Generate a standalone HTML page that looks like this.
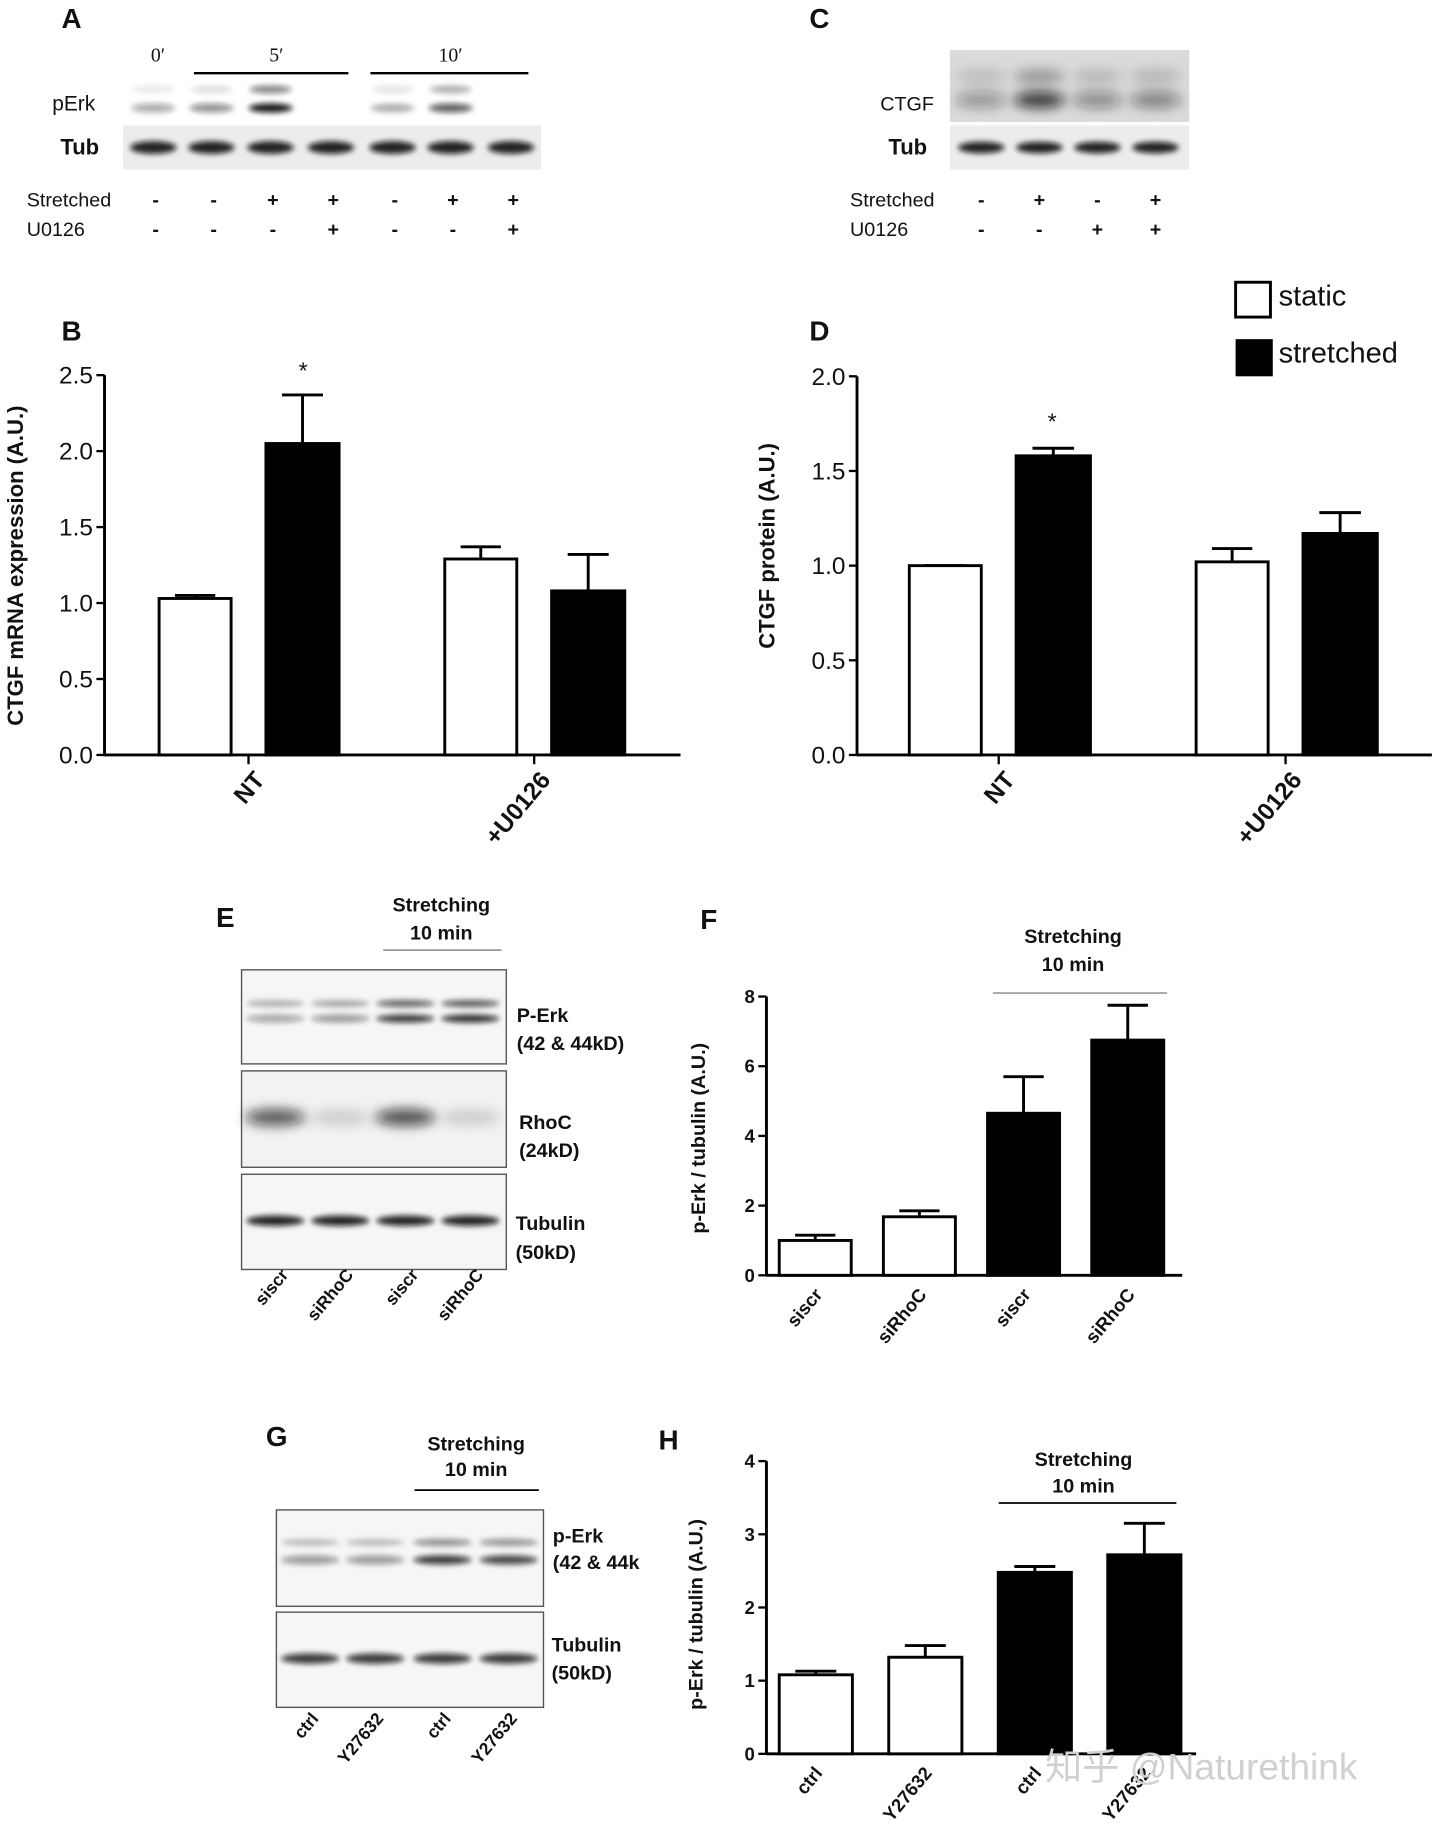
<!DOCTYPE html>
<html><head><meta charset="utf-8"><style>
html,body{margin:0;padding:0;background:#fff;width:1440px;height:1827px;overflow:hidden}
svg{display:block}
text{font-family:"Liberation Sans",Arial,sans-serif;fill:#111}
.serif{font-family:"Liberation Serif",serif}
</style></head><body>
<svg id="fig" width="1440" height="1827" viewBox="0 0 1240 1573" preserveAspectRatio="none" xmlns="http://www.w3.org/2000/svg">
<defs>
<filter id="bl" x="-30%" y="-100%" width="160%" height="300%"><feGaussianBlur stdDeviation="2.2"/></filter>
<filter id="bl2" x="-30%" y="-100%" width="160%" height="300%"><feGaussianBlur stdDeviation="5"/></filter>
</defs>
<g id="blots"></g>
<g id="charts"></g>
<text x="900" y="1532" font-size="32" style="fill:#d0d0d0" font-family="Liberation Sans, Noto Sans CJK SC, sans-serif">知乎 @Naturethink</text>
</svg>
<script>
const NS="http://www.w3.org/2000/svg";
function mk(p,tag,at,txt){const e=document.createElementNS(NS,tag);for(const k in at)e.setAttribute(k,at[k]);if(txt!==undefined)e.textContent=txt;p.appendChild(e);return e;}
const B=document.getElementById('blots'),C=document.getElementById('charts');

// ---- chart data ----
const catsB=["NT","+U0126"];
const staticB=[1.03,1.29], staticErrB=[1.05,1.37];
const stretchB=[2.05,1.08], stretchErrB=[2.37,1.32];
const ticksB=["0.0","0.5","1.0","1.5","2.0","2.5"];
const catsD=["NT","+U0126"];
const staticD=[1.0,1.02], staticErrD=[1.0,1.09];
const stretchD=[1.58,1.17], stretchErrD=[1.62,1.28];
const ticksD=["0.0","0.5","1.0","1.5","2.0"];
const catsF=["siscr","siRhoC","siscr","siRhoC"];
const valsF=[1.0,1.68,4.65,6.75], errF=[1.15,1.85,5.7,7.75], fillF=["w","w","k","k"];
const ticksF=["0","2","4","6","8"];
const catsH=["ctrl","Y27632","ctrl","Y27632"];
const valsH=[1.08,1.32,2.48,2.72], errH=[1.13,1.48,2.56,3.15], fillH=["w","w","k","k"];
const ticksH=["0","1","2","3","4"];

function axis(g,x0,x1,y0,yTop,max,ticks,fs,title,tx,ty,tfs,tb){
  const sy=v=>y0-(v/max)*(y0-yTop);
  let a=mk(g,'line',{x1:x0,y1:y0,x2:x1,y2:y0,stroke:'#000','stroke-width':2.5});
  
  a=mk(g,'line',{x1:x0,y1:y0+1,x2:x0,y2:yTop,stroke:'#000','stroke-width':2.5});
  
  ticks.forEach(t=>{const y=sy(parseFloat(t));
    mk(g,'line',{x1:x0-7,y1:y,x2:x0,y2:y,stroke:'#000','stroke-width':2});
    const l=mk(g,'text',{x:x0-10,y:y+fs*0.35,'font-size':fs,'text-anchor':'end','font-weight':tb?'bold':'normal'},t);
    });
  const tt=mk(g,'text',{x:tx,y:ty,'font-size':tfs,'text-anchor':'middle','font-weight':'bold',transform:`rotate(-90 ${tx} ${ty})`},title);
  
  return sy;
}
function bar(g,x,w,sy,v,e,black,y0,name){
  const top=sy(e);
  mk(g,'line',{x1:x+w/2,y1:sy(v),x2:x+w/2,y2:top,stroke:'#000','stroke-width':2.5});
  mk(g,'line',{x1:x+w/2-w*0.28,y1:top,x2:x+w/2+w*0.28,y2:top,stroke:'#000','stroke-width':2.5});
  const r=mk(g,'rect',{x:x,y:sy(v),width:w,height:y0-sy(v),fill:black?'#000':'#fff',stroke:'#000','stroke-width':2.5});
  
}
function label(g,x,y,t,fs,name,bold,anchor,cls){const e=mk(g,'text',{x:x,y:y,'font-size':fs,'font-weight':bold?'bold':'normal','text-anchor':anchor||'start'},t);if(cls)e.setAttribute('class',cls);return e;}
function rot(g,x,y,t,fs,name){const e=mk(g,'text',{x:x,y:y,'font-size':fs,'font-weight':'bold','text-anchor':'end',transform:`rotate(-50 ${x} ${y})`},t);}

// Chart B
{const g=mk(C,'g',{});
const sy=axis(g,90,586,650,323,2.5,ticksB,21,'CTGF mRNA expression (A.U.)',20,487,19);
catsB.forEach((c,i)=>{const cx=137+i*246;
 bar(g,cx,62,sy,staticB[i],staticErrB[i],false,650,'bar-static-'+c);
 bar(g,cx+92,63,sy,stretchB[i],stretchErrB[i],true,650,'bar-stretched-'+c);
 mk(g,'line',{x1:cx+77,y1:650,x2:cx+77,y2:658,stroke:'#000','stroke-width':2});
 rot(g,cx+92,672,c,21,'x-tick-label');});
label(g,261,326,'*',20,'significance-star',false,'middle');
label(g,53,293,'B',24,'panel-label-b',true);}
// Chart D
{const g=mk(C,'g',{});
const sy=axis(g,738,1233,650,324,2.0,ticksD,21,'CTGF protein (A.U.)',667,470,19);
catsD.forEach((c,i)=>{const cx=783+i*247;
 bar(g,cx,62,sy,staticD[i],staticErrD[i],false,650,'bar-static-'+c);
 bar(g,cx+92,64,sy,stretchD[i],stretchErrD[i],true,650,'bar-stretched-'+c);
 mk(g,'line',{x1:cx+77,y1:650,x2:cx+77,y2:658,stroke:'#000','stroke-width':2});
 rot(g,cx+92,672,c,21,'x-tick-label');});
label(g,906,370,'*',20,'significance-star',false,'middle');
label(g,697,293,'D',24,'panel-label-d',true);
let r=mk(g,'rect',{x:1064,y:243,width:30,height:30,fill:'#fff',stroke:'#000','stroke-width':2.5});
label(g,1101,263,'static',25,'legend-entry-static');
r=mk(g,'rect',{x:1064,y:292,width:32,height:32,fill:'#000'});
label(g,1101,312,'stretched',25,'legend-entry-stretched');}
// Chart F
{const g=mk(C,'g',{});
const sy=axis(g,660,1018,1098,858,8,ticksF,16,'p-Erk / tubulin (A.U.)',607,980,17,true);
catsF.forEach((c,i)=>{const cx=671+i*89.7;
 bar(g,cx,62,sy,valsF[i],errF[i],fillF[i]=='k',1098,'bar-'+c+'-'+i);
 rot(g,cx+38,1115,c,16,'x-tick-label');});
label(g,603,800,'F',24,'panel-label-f',true);
label(g,924,812,'Stretching',17,'bracket-title',true,'middle');label(g,924,836,'10 min',17,'bracket-title',true,'middle');
mk(g,'line',{x1:855,y1:855,x2:1005,y2:855,stroke:'#999','stroke-width':1.5});}
// Chart H
{const g=mk(C,'g',{});
const sy=axis(g,660,1030,1510,1258,4,ticksH,16,'p-Erk / tubulin (A.U.)',605,1390,17,true);
catsH.forEach((c,i)=>{const cx=671+i*94.3;
 bar(g,cx,63,sy,valsH[i],errH[i],fillH[i]=='k',1510,'bar-'+c+'-'+i);
 rot(g,cx+38,1527,c,16,'x-tick-label');});
label(g,567,1248,'H',24,'panel-label-h',true);
label(g,933,1262,'Stretching',17,'bracket-title',true,'middle');label(g,933,1285,'10 min',17,'bracket-title',true,'middle');
mk(g,'line',{x1:860,y1:1294,x2:1013,y2:1294,stroke:'#000','stroke-width':1.5});}

// ---- blots ----
function band(p,cx,cy,w,h,op,blur){mk(p,'ellipse',{cx:cx,cy:cy,rx:w/2,ry:h/2,fill:'#111','fill-opacity':op,filter:blur?'url(#bl2)':'url(#bl)'});}
function box(p,x,y,w,h,fill,stroke,name){const r=mk(p,'rect',{x:x,y:y,width:w,height:h,fill:fill,stroke:stroke||'none','stroke-width':1.2});}
// A
{const g=mk(B,'g',{});
label(g,53,24,'A',24,'panel-label-a',true);
label(g,136,53,'0′',17,'time-label',false,'middle','serif');label(g,238,53,'5′',17,'time-label',false,'middle','serif');label(g,388,53,'10′',17,'time-label',false,'middle','serif');
mk(g,'line',{x1:167,y1:63,x2:300,y2:63,stroke:'#000','stroke-width':2});mk(g,'line',{x1:319,y1:63,x2:455,y2:63,stroke:'#000','stroke-width':2});
const lanes=[132,182,233,285,338,388,440];
const up=[0.08,0.12,0.5,0,0.1,0.3,0], lo=[0.35,0.45,0.95,0,0.3,0.65,0];
lanes.forEach((x,i)=>{if(up[i])band(g,x,77,36,7,up[i]);if(lo[i])band(g,x,93,38,8,lo[i]);});
box(g,106,108,360,38,'#ececec',null,'tub-blot-a');
lanes.forEach(x=>band(g,x,127,40,11,0.9));
label(g,45,95,'pErk',18,'row-label');label(g,52,133,'Tub',19,'row-label',true);
label(g,23,178,'Stretched',17,'row-label');label(g,23,203,'U0126',17,'row-label');
const s=['-','-','+','+','-','+','+'],u=['-','-','-','+','-','-','+'];
lanes.forEach((x,i)=>{label(g,x+2,178,s[i],17,'lane-sign',true,'middle');label(g,x+2,203,u[i],17,'lane-sign',true,'middle');});}
// C
{const g=mk(B,'g',{});
label(g,697,24,'C',24,'panel-label-c',true);
box(g,818,43,206,62,'#dadada',null,'ctgf-blot');
const lanes=[845,895,945,995],op=[0.35,0.8,0.4,0.45];
lanes.forEach((x,i)=>{band(g,x,86,44,14,op[i],true);band(g,x,66,44,12,op[i]*0.4,true);});
box(g,818,108,206,38,'#ececec',null,'tub-blot-c');
lanes.forEach(x=>band(g,x,127,40,10,0.9));
label(g,758,95,'CTGF',17,'row-label');label(g,765,133,'Tub',19,'row-label',true);
label(g,732,178,'Stretched',17,'row-label');label(g,732,203,'U0126',17,'row-label');
const s=['-','+','-','+'],u=['-','-','+','+'];
lanes.forEach((x,i)=>{label(g,x,178,s[i],17,'lane-sign',true,'middle');label(g,x,203,u[i],17,'lane-sign',true,'middle');});}
// E
{const g=mk(B,'g',{});
label(g,186,798,'E',24,'panel-label-e',true);
label(g,380,785,'Stretching',17,'bracket-title',true,'middle');label(g,380,809,'10 min',17,'bracket-title',true,'middle');
mk(g,'line',{x1:330,y1:818,x2:432,y2:818,stroke:'#999','stroke-width':1.5});
const lanes=[237,293,349,405];
box(g,208,835,228,81,'#f6f6f6','#555','perk-blot-e');
[0.35,0.4,0.8,0.85].forEach((o,i)=>{band(g,lanes[i],864,50,6,o*0.8);band(g,lanes[i],877,50,7,o);});
box(g,208,922,228,83,'#f2f2f2','#555','rhoc-blot');
[0.7,0.15,0.75,0.15].forEach((o,i)=>band(g,lanes[i],962,52,14,o,true));
box(g,208,1011,228,82,'#f6f6f6','#555','tubulin-blot-e');
lanes.forEach(x=>band(g,x,1051,50,9,0.9));
label(g,445,880,'P-Erk',17,'row-label',true);label(g,445,904,'(42 & 44kD)',17,'row-label',true);
label(g,447,972,'RhoC',17,'row-label',true);label(g,447,996,'(24kD)',17,'row-label',true);
label(g,444,1059,'Tubulin',17,'row-label',true);label(g,444,1084,'(50kD)',17,'row-label',true);
['siscr','siRhoC','siscr','siRhoC'].forEach((t,i)=>rot(g,lanes[i]+12,1098,t,15,'lane-label'));}
// G
{const g=mk(B,'g',{});
label(g,229,1245,'G',24,'panel-label-g',true);
label(g,410,1249,'Stretching',17,'bracket-title',true,'middle');label(g,410,1271,'10 min',17,'bracket-title',true,'middle');
mk(g,'line',{x1:357,y1:1283,x2:464,y2:1283,stroke:'#000','stroke-width':1.5});
const lanes=[267,323,381,438];
box(g,238,1300,230,83,'#f6f6f6','#555','perk-blot-g');
[0.4,0.4,0.8,0.75].forEach((o,i)=>{band(g,lanes[i],1328,50,6,o*0.6);band(g,lanes[i],1343,50,8,o);});
box(g,238,1388,230,82,'#f6f6f6','#555','tubulin-blot-g');
lanes.forEach(x=>band(g,x,1428,50,9,0.8));
label(g,476,1328,'p-Erk',17,'row-label',true);label(g,476,1351,'(42 & 44k',17,'row-label',true);
label(g,475,1422,'Tubulin',17,'row-label',true);label(g,475,1446,'(50kD)',17,'row-label',true);
['ctrl','Y27632','ctrl','Y27632'].forEach((t,i)=>rot(g,lanes[i]+8,1480,t,15,'lane-label'));}
</script>
</body></html>
